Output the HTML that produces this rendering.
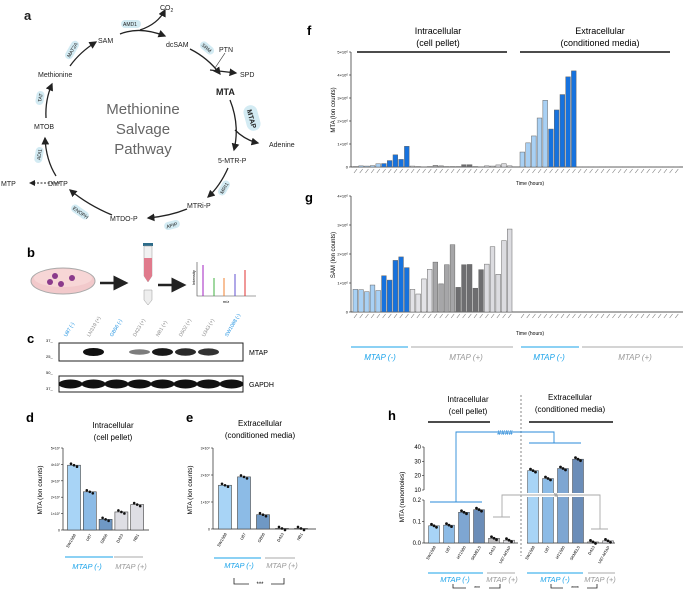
<!DOCTYPE html>
<html><head><meta charset="utf-8">
<style>
html,body{margin:0;padding:0;background:#fff;}
svg{display:block;font-family:"Liberation Sans",sans-serif;}
</style></head>
<body>
<svg id="fig" width="685" height="591" viewBox="0 0 685 591" xmlns="http://www.w3.org/2000/svg">
<defs>
<marker id="ar" markerWidth="6" markerHeight="6" refX="5" refY="3" orient="auto"><path d="M0,0 L6,3 L0,6 z" fill="#222"/></marker>
</defs>

<!-- Panel a -->
<g font-size="7" fill="#222">
<text x="24" y="20" font-size="13" font-weight="bold">a</text>
<text x="143" y="114" font-size="15" fill="#666" text-anchor="middle">Methionine</text>
<text x="143" y="134" font-size="15" fill="#666" text-anchor="middle">Salvage</text>
<text x="143" y="154" font-size="15" fill="#666" text-anchor="middle">Pathway</text>
<g fill="none" stroke="#222" stroke-width="1.3" marker-end="url(#ar)">
<path d="M120,34 Q140,26 165,36"/>
<path d="M140,30 Q158,24 165,10"/>
<path d="M70,66 Q80,52 96,42"/>
<path d="M46,118 Q45,100 52,84"/>
<path d="M56,176 Q46,160 45,138"/>
<path d="M112,215 Q88,205 70,190"/>
<path d="M187,209 Q170,216 148,218"/>
<path d="M228,168 Q220,186 208,197"/>
<path d="M230,100 Q240,125 234,150"/>
<path d="M190,49 Q208,58 220,74"/>
<path d="M210,70 L236,73"/>
<path d="M235,130 Q245,140 258,143"/>
</g>
<path d="M60,183 L30,183" stroke="#222" stroke-dasharray="2,1.5" fill="none" marker-end="url(#ar)"/>
<path d="M215,68 L225,53" stroke="#222" fill="none" stroke-width="0.6"/>
<text x="160" y="10">CO<tspan font-size="5" dy="2">2</tspan></text>
<text x="98" y="43">SAM</text>
<text x="166" y="47">dcSAM</text>
<text x="219" y="52">PTN</text>
<text x="240" y="77">SPD</text>
<text x="216" y="95" font-size="9" font-weight="bold">MTA</text>
<text x="269" y="147">Adenine</text>
<text x="218" y="163">5-MTR-P</text>
<text x="187" y="208">MTRi-P</text>
<text x="110" y="221">MTDO-P</text>
<text x="48" y="186">DMTP</text>
<text x="1" y="186">MTP</text>
<text x="34" y="129">MTOB</text>
<text x="38" y="77">Methionine</text>
<g font-size="5" fill="#222">
<rect x="121" y="20" width="20" height="8" rx="4" fill="#d3ebf3"/><text x="123" y="26">AMD1</text>
<g transform="translate(207,48) rotate(40)"><rect x="-8" y="-4" width="16" height="8" rx="4" fill="#d3ebf3"/><text x="-6" y="2">SRM</text></g>
<g transform="translate(252,118) rotate(75)"><rect x="-13" y="-7" width="26" height="14" rx="7" fill="#d3ebf3"/><text x="-9" y="3" font-size="7" font-weight="bold">MTAP</text></g>
<g transform="translate(224,188) rotate(-60)"><rect x="-8" y="-4" width="16" height="8" rx="4" fill="#d3ebf3"/><text x="-6" y="2">MRI1</text></g>
<g transform="translate(172,225) rotate(-15)"><rect x="-8" y="-4" width="16" height="8" rx="4" fill="#d3ebf3"/><text x="-6" y="2">APIP</text></g>
<g transform="translate(80,212) rotate(35)"><rect x="-10" y="-4" width="20" height="8" rx="4" fill="#d3ebf3"/><text x="-8" y="2">ENOPH</text></g>
<g transform="translate(39,155) rotate(-80)"><rect x="-8" y="-4" width="16" height="8" rx="4" fill="#d3ebf3"/><text x="-5" y="2">ADI1</text></g>
<g transform="translate(40,98) rotate(-80)"><rect x="-7" y="-4" width="14" height="8" rx="4" fill="#d3ebf3"/><text x="-4" y="2">TAT</text></g>
<g transform="translate(72,50) rotate(-60)"><rect x="-10" y="-4" width="20" height="8" rx="4" fill="#d3ebf3"/><text x="-8" y="2">MAT2A</text></g>
</g>
</g>

<!-- Panel b -->
<g>
<text x="27" y="257" font-size="13" font-weight="bold">b</text>
<ellipse cx="63" cy="281" rx="32" ry="13" fill="#f2c9cb" stroke="#aaa"/>
<ellipse cx="63" cy="278" rx="29" ry="9" fill="#f7d6d6"/>
<circle cx="55" cy="276" r="3" fill="#8b3a8b"/><circle cx="72" cy="278" r="3" fill="#8b3a8b"/><circle cx="61" cy="284" r="3" fill="#8b3a8b"/><circle cx="50" cy="282" r="3" fill="#8b3a8b"/>
<path d="M100,283 L126,283" stroke="#222" stroke-width="2.5" marker-end="url(#ar)"/>
<rect x="143" y="243" width="10" height="3" fill="#2d6c8a"/>
<path d="M144,246 L152,246 L152,276 L148,282 L144,276 z" fill="#f1f1f1" stroke="#999" stroke-width="0.5"/>
<path d="M144,258 L152,258 L152,276 L148,282 L144,276 z" fill="#e07a8c"/>
<path d="M144,290 L152,290 L152,300 L148,305 L144,300 z" fill="#eee" stroke="#999" stroke-width="0.5"/>
<path d="M158,285 L184,285" stroke="#222" stroke-width="2.5" marker-end="url(#ar)"/>
<path d="M197,262 L197,296 L256,296" stroke="#444" fill="none" stroke-width="0.6"/>
<line x1="203" y1="296" x2="203" y2="265" stroke="#a020c0"/>
<line x1="214" y1="296" x2="214" y2="278" stroke="#40b040"/>
<line x1="224" y1="296" x2="224" y2="278" stroke="#f08030"/>
<line x1="235" y1="296" x2="235" y2="274" stroke="#6050d0"/>
<line x1="245" y1="296" x2="245" y2="270" stroke="#e03030"/>
<text x="226" y="303" font-size="4" text-anchor="middle">m/z</text>
<text x="0" y="0" font-size="4" transform="translate(195,285) rotate(-90)">Intensity</text>
</g>

<!-- Panel c -->
<g font-size="5">
<text x="27" y="343" font-size="13" font-weight="bold">c</text>
<g id="lanes"></g>
<rect x="59" y="343" width="184" height="18" fill="#fff" stroke="#222" stroke-width="1"/>
<rect x="59" y="376" width="184" height="16" fill="#fff" stroke="#222" stroke-width="1"/>
<g id="bands"></g>
<text x="46" y="342" font-size="4">37_</text><text x="46" y="358" font-size="4">25_</text>
<text x="46" y="374" font-size="4">50_</text><text x="46" y="390" font-size="4">37_</text>
<text x="249" y="355" font-size="7">MTAP</text>
<text x="249" y="387" font-size="7">GAPDH</text>
</g>

<!-- Panels f & g -->
<g font-size="5">
<text x="307" y="35" font-size="13" font-weight="bold">f</text>
<text x="305" y="202" font-size="13" font-weight="bold">g</text>
<text x="438" y="34" font-size="9" text-anchor="middle">Intracellular</text>
<text x="438" y="46" font-size="9" text-anchor="middle">(cell pellet)</text>
<text x="600" y="34" font-size="9" text-anchor="middle">Extracellular</text>
<text x="600" y="46" font-size="9" text-anchor="middle">(conditioned media)</text>
<line x1="357" y1="52" x2="507" y2="52" stroke="#111" stroke-width="1.5"/>
<line x1="520" y1="52" x2="670" y2="52" stroke="#111" stroke-width="1.5"/>
<g id="fchart"></g><g id="gchart"></g>
<text x="530" y="185" text-anchor="middle">Time (hours)</text>
<text x="530" y="335" text-anchor="middle">Time (hours)</text>
<text transform="translate(335,110) rotate(-90)" text-anchor="middle" font-size="6">MTA (Ion counts)</text>
<text transform="translate(335,255) rotate(-90)" text-anchor="middle" font-size="6">SAM (Ion counts)</text>
<line x1="351" y1="347" x2="408" y2="347" stroke="#1aa3ea"/><line x1="411" y1="347" x2="513" y2="347" stroke="#aaa"/>
<line x1="521" y1="347" x2="579" y2="347" stroke="#1aa3ea"/><line x1="582" y1="347" x2="683" y2="347" stroke="#aaa"/>
<g font-size="8" font-style="italic" text-anchor="middle">
<text x="380" y="360" fill="#1aa3ea">MTAP (-)</text><text x="466" y="360" fill="#999">MTAP (+)</text>
<text x="549" y="360" fill="#1aa3ea">MTAP (-)</text><text x="635" y="360" fill="#999">MTAP (+)</text>
</g>
</g>

<!-- Panel d & e -->
<g font-size="4">
<text x="26" y="422" font-size="13" font-weight="bold">d</text>
<text x="186" y="422" font-size="13" font-weight="bold">e</text>
<text x="113" y="428" font-size="8" text-anchor="middle">Intracellular</text>
<text x="113" y="440" font-size="8" text-anchor="middle">(cell pellet)</text>
<text x="260" y="426" font-size="8" text-anchor="middle">Extracellular</text>
<text x="260" y="438" font-size="8" text-anchor="middle">(conditioned media)</text>
<text transform="translate(42,490) rotate(-90)" text-anchor="middle" font-size="6.5">MTA (Ion counts)</text>
<text transform="translate(192,490) rotate(-90)" text-anchor="middle" font-size="6.5">MTA (Ion counts)</text>
<g id="dchart"></g><g id="echart"></g>
<line x1="65" y1="557" x2="113" y2="557" stroke="#1aa3ea"/><line x1="114" y1="557" x2="143" y2="557" stroke="#aaa"/>
<line x1="214" y1="558" x2="261" y2="558" stroke="#1aa3ea"/><line x1="265" y1="558" x2="295" y2="558" stroke="#aaa"/>
<g font-size="7.5" font-style="italic" text-anchor="middle">
<text x="87" y="569" fill="#1aa3ea">MTAP (-)</text><text x="131" y="569" fill="#999">MTAP (+)</text>
<text x="239" y="568" fill="#1aa3ea">MTAP (-)</text><text x="282" y="568" fill="#999">MTAP (+)</text>
</g>
<path d="M234,578 L234,584 L249,584 M271,584 L284,584 L284,578" stroke="#222" fill="none" stroke-width="0.8"/>
<text x="260" y="586" font-size="6" text-anchor="middle">***</text>
</g>

<!-- Panel h -->
<g font-size="4">
<text x="388" y="420" font-size="13" font-weight="bold">h</text>
<text x="468" y="402" font-size="8" text-anchor="middle">Intracellular</text>
<text x="468" y="414" font-size="8" text-anchor="middle">(cell pellet)</text>
<text x="570" y="400" font-size="8" text-anchor="middle">Extracellular</text>
<text x="570" y="412" font-size="8" text-anchor="middle">(conditioned media)</text>
<line x1="428" y1="422" x2="490" y2="422" stroke="#111" stroke-width="1.5"/>
<line x1="529" y1="422" x2="613" y2="422" stroke="#111" stroke-width="1.5"/>
<line x1="521" y1="395" x2="521" y2="556" stroke="#555" stroke-dasharray="2,2" stroke-width="0.7"/>
<text transform="translate(404,497) rotate(-90)" text-anchor="middle" font-size="6.5">MTA (nanomoles)</text>
<g id="hchart"></g>
<path d="M456,502 L456,432 L554,432 L554,443 M529,443 L581,443 M430,502 L482,502" stroke="#2a8ad8" fill="none" stroke-width="0.9"/>
<text x="505" y="435" font-size="7" font-weight="bold" fill="#2a8ad8" text-anchor="middle">####</text>
<path d="M502,517 L502,495 L600,495 L600,529 M493,517 L510,517 M591,529 L608,529" stroke="#aaa" fill="none" stroke-width="0.9"/>
<text x="556" y="497" font-size="5" fill="#666" text-anchor="middle">%</text>
<line x1="428" y1="573" x2="483" y2="573" stroke="#1aa3ea"/><line x1="487" y1="573" x2="515" y2="573" stroke="#aaa"/>
<line x1="527" y1="573" x2="583" y2="573" stroke="#1aa3ea"/><line x1="588" y1="573" x2="615" y2="573" stroke="#aaa"/>
<g font-size="7.5" font-style="italic" text-anchor="middle">
<text x="455" y="582" fill="#1aa3ea">MTAP (-)</text><text x="502" y="582" fill="#999">MTAP (+)</text>
<text x="555" y="582" fill="#1aa3ea">MTAP (-)</text><text x="600" y="582" fill="#999">MTAP (+)</text>
</g>
<path d="M453,584 L453,588 L466,588 M489,588 L500,588 L500,584 M551,584 L551,588 L563,588 M587,588 L597,588 L597,584" stroke="#222" fill="none" stroke-width="0.8"/>
<text x="477" y="590" font-size="5" text-anchor="middle">***</text>
<text x="575" y="590" font-size="5" text-anchor="middle">****</text>
</g>
</svg>

<script>
// ---- data ----
var blotLanes = ["U87 (-)","LN319 (+)","GB56 (-)","D423 (+)","NB1 (+)","D502 (+)","U343 (+)","SW1088 (-)"];
var blotMtap = [0, 1, 0, 0.35, 0.95, 0.85, 0.8, 0];
var fIntra = [0.02,0.05,0.04,0.06,0.14,0.15,0.28,0.53,0.33,0.9,0.04,0.02,0.01,0.02,0.07,0.05,0.02,0.02,0.02,0.1,0.1,0.02,0.01,0.05,0.04,0.09,0.14,0.05];
var fExtra = [0.65,1.05,1.35,2.13,2.9,1.65,2.48,3.15,3.92,4.18,0.01,0.01,0.01,0.01,0.01,0.01,0.01,0.01,0.01,0.01,0.01,0.01,0.01,0.01,0.01,0.01,0.01,0.01];
var gIntra = [0.78,0.77,0.7,0.93,0.74,1.25,1.1,1.78,1.9,1.53,0.78,0.62,1.14,1.47,1.72,0.97,1.63,2.32,0.85,1.63,1.64,0.82,1.46,1.65,2.25,1.3,2.46,2.86];
var gExtra = [0,0,0,0,0,0,0,0,0,0,0,0,0,0,0,0,0,0,0,0,0,0,0,0,0,0,0,0];
var fTicks = ["0","1×10⁶","2×10⁶","3×10⁶","4×10⁶","5×10⁶"];
var gTicks = ["0","1×10⁶","2×10⁶","3×10⁶","4×10⁶"];
var dCats = ["SW1088","U87","GB56","D423","NB1"];
var dVals = [3.95,2.33,0.65,1.1,1.55];
var dTicks = ["0","1×10⁷","2×10⁷","3×10⁷","4×10⁷","5×10⁷"];
var eCats = ["SW1088","U87","GB56","D423","NB1"];
var eVals = [1.62,1.93,0.53,0.02,0.02];
var eTicks = ["0","1×10⁸","2×10⁸","3×10⁸"];
var hCatsIntra = ["SW1088","U87","HT1080","SKMEL5","D423","U87-MTAP"];
var hIntra = [0.08,0.083,0.143,0.155,0.022,0.013];
var hCatsExtra = ["SW1088","U87","HT1080","SKMEL5","D423","U87-MTAP"];
var hExtra = [23.5,18,25,31.5,0.005,0.01];
var hLowTicks = ["0.0","0.1","0.2"];
var hHighTicks = ["10","20","30","40"];

var NS = "http://www.w3.org/2000/svg";
function mk(tag, attrs, parent){var e=document.createElementNS(NS,tag);for(var k in attrs)e.setAttribute(k,attrs[k]);parent.appendChild(e);return e;}

// ---- blot ----
(function(){
  var lanes=document.getElementById('lanes'), bands=document.getElementById('bands');
  var x0=59, w=23;
  blotLanes.forEach(function(l,i){
    var cx=x0+w*i+w/2;
    var t=mk('text',{x:cx-4,y:337,transform:'rotate(-60 '+(cx-4)+' 337)','font-size':5,fill:l.indexOf('(-)')>=0?'#1a8fe0':'#888'},lanes);
    t.textContent=l;
    
    
    if(blotMtap[i]>0){
      var b=mk('ellipse',{cx:cx,cy:352,rx:10.5,ry:2+2*blotMtap[i],fill:'#111','fill-opacity':0.3+0.7*blotMtap[i]},bands);
      
      
    }
    var g=mk('ellipse',{cx:cx,cy:384,rx:12,ry:4.5,fill:'#111'},bands);
    
    
  });
})();

// ---- f & g ----
var barCols=['#a8d0f4','#a8d0f4','#a8d0f4','#a8d0f4','#a8d0f4','#1672de','#1672de','#1672de','#1672de','#1672de','#e2e2e6','#e2e2e6','#e2e2e6','#e2e2e6','#a6a6a8','#a6a6a8','#a6a6a8','#a6a6a8','#6e6e70','#6e6e70','#6e6e70','#6e6e70','#6e6e70','#dcdce0','#dcdce0','#dcdce0','#dcdce0','#dcdce0'];
function timeChart(id, intra, extra, ticks, yTop, yBot){
  var g=document.getElementById(id), ax=351, max=ticks.length-1;
  function y(v){return yBot-(yBot-yTop)*v/max;}
  mk('line',{x1:ax,y1:yTop,x2:ax,y2:yBot,stroke:'#222','stroke-width':0.7},g);
  mk('line',{x1:ax,y1:yBot,x2:683,y2:yBot,stroke:'#222','stroke-width':0.7},g);
  ticks.forEach(function(t,i){
    mk('line',{x1:ax-2,y1:y(i),x2:ax,y2:y(i),stroke:'#222','stroke-width':0.6},g);
    var tx=mk('text',{x:ax-3,y:y(i)+1.5,'text-anchor':'end','font-size':4},g); tx.textContent=t;
  });
  [[intra,353],[extra,520]].forEach(function(p){
    var step=160/p[0].length;
    p[0].forEach(function(v,i){
      var r=mk('rect',{x:p[1]+i*step,y:y(v),width:step-1,height:Math.max(0,yBot-y(v)),fill:barCols[i],stroke:'#666','stroke-width':0.5},g);
      
      
      mk('line',{x1:p[1]+i*step+1,y1:yBot+6,x2:p[1]+i*step+4,y2:yBot+2,stroke:'#777','stroke-width':0.6},g);
    });
  });
}
timeChart('fchart',fIntra,fExtra,fTicks,52,167);
timeChart('gchart',gIntra,gExtra,gTicks,196,312);

// ---- d & e ----
var dCols=['#a8d4f6','#8cbbe6','#6f98c4','#dedee4','#dedee4'];
function barChart(id, cats, vals, ticks, ax, x0, step, yTop, yBot){
  var g=document.getElementById(id), max=ticks.length-1;
  function y(v){return yBot-(yBot-yTop)*v/max;}
  mk('line',{x1:ax,y1:yTop,x2:ax,y2:yBot,stroke:'#222','stroke-width':0.7},g);
  mk('line',{x1:ax,y1:yBot,x2:x0+step*cats.length-4,y2:yBot,stroke:'#222','stroke-width':0.7},g);
  ticks.forEach(function(t,i){
    mk('line',{x1:ax-2,y1:y(i),x2:ax,y2:y(i),stroke:'#222','stroke-width':0.6},g);
    var tx=mk('text',{x:ax-3,y:y(i)+1.5,'text-anchor':'end','font-size':3.5},g); tx.textContent=t;
  });
  cats.forEach(function(c,i){
    var cx=x0+step*i;
    var r=mk('rect',{x:cx-6.5,y:y(vals[i]),width:13,height:yBot-y(vals[i]),fill:dCols[i],stroke:'#444','stroke-width':0.6},g);
    
    
    for(var k=-1;k<=1;k++) mk('circle',{cx:cx+k*3,cy:y(vals[i])+(k*1.5),r:1.3,fill:'#111'},g);
    var t=mk('text',{x:cx+2,y:yBot+5,transform:'rotate(-60 '+(cx+2)+' '+(yBot+5)+')','text-anchor':'end','font-size':4},g); t.textContent=c;
  });
}
barChart('dchart',dCats,dVals,dTicks,63,74,15.8,448,530);
barChart('echart',eCats,eVals,eTicks,213,225,19,448,529);

// ---- h ----
(function(){
  var g=document.getElementById('hchart'), ax=424, lowTop=500, lowBot=543, hiTop=447, hiBot=490;
  function yl(v){return lowBot-(lowBot-lowTop)*v/0.2;}
  function yh(v){return hiBot-(hiBot-hiTop)*(v-10)/30;}
  mk('line',{x1:ax,y1:lowTop,x2:ax,y2:lowBot,stroke:'#222','stroke-width':0.7},g);
  mk('line',{x1:ax,y1:hiTop,x2:ax,y2:hiBot,stroke:'#222','stroke-width':0.7},g);
  hLowTicks.forEach(function(t){var v=parseFloat(t);mk('line',{x1:ax-2,y1:yl(v),x2:ax,y2:yl(v),stroke:'#222','stroke-width':0.6},g);var tx=mk('text',{x:ax-3,y:yl(v)+2,'text-anchor':'end','font-size':6},g);tx.textContent=t;});
  hHighTicks.forEach(function(t){var v=parseFloat(t);mk('line',{x1:ax-2,y1:yh(v),x2:ax,y2:yh(v),stroke:'#222','stroke-width':0.6},g);var tx=mk('text',{x:ax-3,y:yh(v)+2,'text-anchor':'end','font-size':6},g);tx.textContent=t;});
  mk('line',{x1:ax,y1:lowBot,x2:518,y2:lowBot,stroke:'#222','stroke-width':0.8},g);
  mk('line',{x1:527,y1:lowBot,x2:615,y2:lowBot,stroke:'#222','stroke-width':0.8},g);
  var cols=['#a8d4f6','#8cbbe6','#7ea6d2','#6b8db8','#bdbdc0','#dedee4'];
  function draw(cats, vals, x0){
    cats.forEach(function(c,i){
      var cx=x0+15*i, v=vals[i], top;
      if(v>0.2){top=yh(v);}else{top=yl(v);}
      var r=mk('rect',{x:cx-5.5,y:top,width:11,height:lowBot-top,fill:cols[i],stroke:'#444','stroke-width':0.5},g);
      
      
      if(v>0.2) mk('rect',{x:cx-6.5,y:hiBot+3,width:13,height:4,fill:'#fff'},g);
      for(var k=-1;k<=1;k++) mk('circle',{cx:cx+k*2.5,cy:top+k*1.5,r:1.4,fill:'#111'},g);
      var t=mk('text',{x:cx+2,y:lowBot+4,transform:'rotate(-60 '+(cx+2)+' '+(lowBot+4)+')','text-anchor':'end','font-size':4},g); t.textContent=c;
    });
  }
  draw(hCatsIntra,hIntra,434);
  draw(hCatsExtra,hExtra,533);
})();
</script>
</body></html>
